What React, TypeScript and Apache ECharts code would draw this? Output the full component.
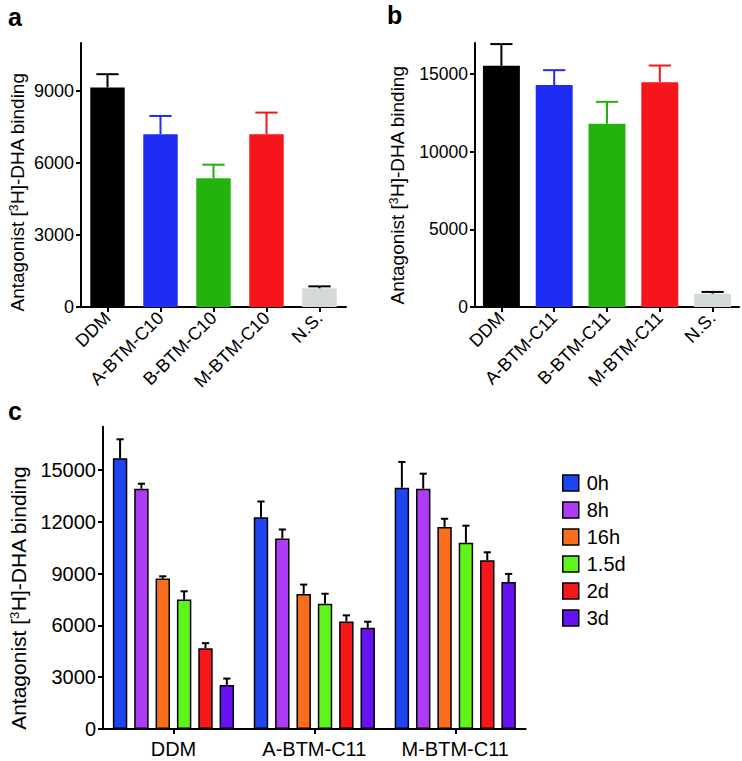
import React, { useEffect, useRef } from 'react';
import * as echarts from 'echarts';

const catsA = ['DDM', 'A-BTM-C10', 'B-BTM-C10', 'M-BTM-C10', 'N.S.'];
const valsA = [9150, 7200, 5360, 7200, 780];
const errA = [550, 760, 570, 900, 80];
const catsB = ['DDM', 'A-BTM-C11', 'B-BTM-C11', 'M-BTM-C11', 'N.S.'];
const valsB = [15530, 14290, 11800, 14480, 860];
const errB = [1400, 960, 1410, 1070, 110];
const colorsAB = ['#000000', '#1e2cf6', '#22b30c', '#f6151a', '#d4dada'];
const errColorsAB = ['#000000', '#1e2cf6', '#22b30c', '#f6151a', '#000000'];
const ticksA = [0, 3000, 6000, 9000];
const ticksB = [0, 5000, 10000, 15000];
const ticksC = [0, 3000, 6000, 9000, 12000, 15000];

const groupsC = ['DDM', 'A-BTM-C11', 'M-BTM-C11'];
const timesC = ['0h', '8h', '16h', '1.5d', '2d', '3d'];
const colorsC = ['#1f45f2', '#ad3cf4', '#f86e1c', '#5ef51a', '#f6171a', '#6612f2'];
const vals0h = [15670, 12260, 13970];
const err0h = [1100, 910, 1490];
const vals8h = [13910, 11030, 13910];
const err8h = [290, 520, 870];
const vals16h = [8710, 7820, 11700];
const err16h = [130, 540, 470];
const vals15d = [7490, 7250, 10780];
const err15d = [480, 580, 990];
const vals2d = [4680, 6230, 9770];
const err2d = [290, 350, 460];
const vals3d = [2540, 5860, 8510];
const err3d = [380, 350, 470];
const valsC = [vals0h, vals8h, vals16h, vals15d, vals2d, vals3d];
const errC = [err0h, err8h, err16h, err15d, err2d, err3d];

const FONT = 'Liberation Sans, Arial, sans-serif';
const TITLE = 'Antagonist [{sup|3}H]-DHA binding';

const C_CAT_GAP = 0.14;
const C_BAR_GAP = 0.48;

function axisBase() {
  return {
    axisLine: { show: true, lineStyle: { color: '#000', width: 2 } },
    axisTick: { show: true, length: 5, lineStyle: { color: '#000', width: 2 } },
    splitLine: { show: false },
  };
}

function yAxis(grid: number, max: number, ticks: number[], fs: number, tfs: number, gap: number, pad: number[]) {
  const b = axisBase();
  return {
    type: 'value',
    gridIndex: grid,
    min: 0,
    max,
    ...b,
    axisTick: { ...b.axisTick, customValues: ticks },
    axisLabel: {
      color: '#000',
      fontSize: fs,
      fontFamily: FONT,
      margin: 7,
      customValues: ticks,
      formatter: (v: number) => String(v),
    },
    name: TITLE,
    nameLocation: 'middle',
    nameGap: gap,
    nameRotate: 90,
    nameTextStyle: {
      color: '#000',
      fontSize: tfs,
      fontFamily: FONT,
      padding: pad,
      rich: { sup: { fontSize: Math.round(tfs * 0.62), fontFamily: FONT, color: '#000', verticalAlign: 'top' } },
    },
  };
}

function xAxisAB(grid: number, cats: string[]) {
  return {
    type: 'category',
    gridIndex: grid,
    data: cats,
    ...axisBase(),
    axisTick: { show: true, length: 5, alignWithLabel: true, lineStyle: { color: '#000', width: 2 } },
    axisLabel: { color: '#000', fontSize: 18, fontFamily: FONT, rotate: 45, interval: 0, margin: 8 },
  };
}

function errSimple(xi: number, vals: number[], errs: number[], colors: string[], capFrac: number) {
  return {
    type: 'custom',
    xAxisIndex: xi,
    yAxisIndex: xi,
    z: 3,
    data: vals.map((v, i) => [i, v, errs[i], i]),
    encode: { x: 0, y: 1 },
    renderItem: (_p: any, api: any) => {
      const x = api.value(0);
      const v = api.value(1);
      const e = api.value(2);
      const c = colors[api.value(3)];
      const p0 = api.coord([x, v]);
      const p1 = api.coord([x, v + e]);
      const band = api.size([1, 0])[0];
      const half = (band * capFrac) / 2;
      const st = { stroke: c, lineWidth: 2 };
      return {
        type: 'group',
        children: [
          { type: 'line', shape: { x1: p0[0], y1: p0[1], x2: p1[0], y2: p1[1] }, style: st },
          { type: 'line', shape: { x1: p1[0] - half, y1: p1[1], x2: p1[0] + half, y2: p1[1] }, style: st },
        ],
      };
    },
  };
}

export default function App() {
  const ref = useRef<HTMLDivElement>(null);
  useEffect(() => {
    if (!ref.current) return;
    const chart = echarts.init(ref.current, undefined, { renderer: 'svg' });
    const series: any[] = [];
    series.push({
      type: 'bar',
      xAxisIndex: 0,
      yAxisIndex: 0,
      barWidth: '65%',
      data: valsA.map((v, i) => ({ value: v, itemStyle: { color: colorsAB[i] } })),
    });
    series.push(errSimple(0, valsA, errA, errColorsAB, 0.42));
    series.push({
      type: 'bar',
      xAxisIndex: 1,
      yAxisIndex: 1,
      barWidth: '70%',
      data: valsB.map((v, i) => ({ value: v, itemStyle: { color: colorsAB[i] } })),
    });
    series.push(errSimple(1, valsB, errB, errColorsAB, 0.42));
    timesC.forEach((t, si) => {
      series.push({
        type: 'bar',
        name: t,
        xAxisIndex: 2,
        yAxisIndex: 2,
        barGap: C_BAR_GAP * 100 + '%',
        barCategoryGap: C_CAT_GAP * 100 + '%',
        itemStyle: { color: colorsC[si], borderColor: '#000', borderWidth: 1.5 },
        data: valsC[si],
      });
    });
    timesC.forEach((t, si) => {
      series.push({
        type: 'custom',
        name: 'err-' + t,
        xAxisIndex: 2,
        yAxisIndex: 2,
        z: 3,
        data: valsC[si].map((v, i) => [i, v, errC[si][i]]),
        encode: { x: 0, y: 1 },
        renderItem: (_p: any, api: any) => {
          const x = api.value(0);
          const v = api.value(1);
          const e = api.value(2);
          const band = api.size([1, 0])[0];
          const bw = (band * (1 - C_CAT_GAP)) / (6 + 5 * C_BAR_GAP);
          const off = (si - 2.5) * bw * (1 + C_BAR_GAP);
          const p0 = api.coord([x, v]);
          const p1 = api.coord([x, v + e]);
          const half = bw * 0.25;
          const st = { stroke: '#000', lineWidth: 2 };
          const cx = p0[0] + off;
          return {
            type: 'group',
            children: [
              { type: 'line', shape: { x1: cx, y1: p0[1], x2: cx, y2: p1[1] }, style: st },
              { type: 'line', shape: { x1: cx - half, y1: p1[1], x2: cx + half, y2: p1[1] }, style: st },
            ],
          };
        },
      });
    });

    const option: any = {
      animation: false,
      backgroundColor: '#fff',
      textStyle: { fontFamily: FONT },
      grid: [
        { left: 81, top: 43, width: 265, height: 264 },
        { left: 475, top: 43, width: 264, height: 264 },
        { left: 101.7, top: 426.7, width: 424, height: 302.3 },
      ],
      xAxis: [
        xAxisAB(0, catsA),
        xAxisAB(1, catsB),
        {
          type: 'category',
          gridIndex: 2,
          data: groupsC,
          ...axisBase(),
          axisTick: { show: true, length: 5, alignWithLabel: true, lineStyle: { color: '#000', width: 2 } },
          axisLabel: { color: '#000', fontSize: 20, fontFamily: FONT, interval: 0, margin: 10 },
        },
      ],
      yAxis: [
        yAxis(0, 11000, ticksA, 18, 19, 54, [0, 34, 0, 0]),
        yAxis(1, 17000, ticksB, 17.5, 19, 68, [0, 20, 0, 0]),
        yAxis(2, 17500, ticksC, 20, 21, 74, [0, 40, 0, 0]),
      ],
      legend: {
        orient: 'vertical',
        left: 557,
        top: 468,
        data: timesC,
        icon: 'rect',
        itemWidth: 16,
        itemHeight: 16,
        itemGap: 7,
        itemStyle: { borderColor: '#000', borderWidth: 1.5 },
        textStyle: { color: '#000', fontSize: 20, fontFamily: FONT, lineHeight: 20, padding: [0, 0, 0, 3] },
      },
      graphic: [
        { type: 'text', left: 8, top: 4, style: { text: 'a', fontSize: 25, fontWeight: 'bold', fontFamily: FONT, fill: '#000' } },
        { type: 'text', left: 387, top: 2, style: { text: 'b', fontSize: 25, fontWeight: 'bold', fontFamily: FONT, fill: '#000' } },
        { type: 'text', left: 8, top: 398, style: { text: 'c', fontSize: 25, fontWeight: 'bold', fontFamily: FONT, fill: '#000' } },
      ],
      series,
    };
    chart.setOption(option);
    return () => chart.dispose();
  }, []);
  return <div ref={ref} style={{ position: 'absolute', left: 0, top: 0, width: 742, height: 761 }} />;
}
